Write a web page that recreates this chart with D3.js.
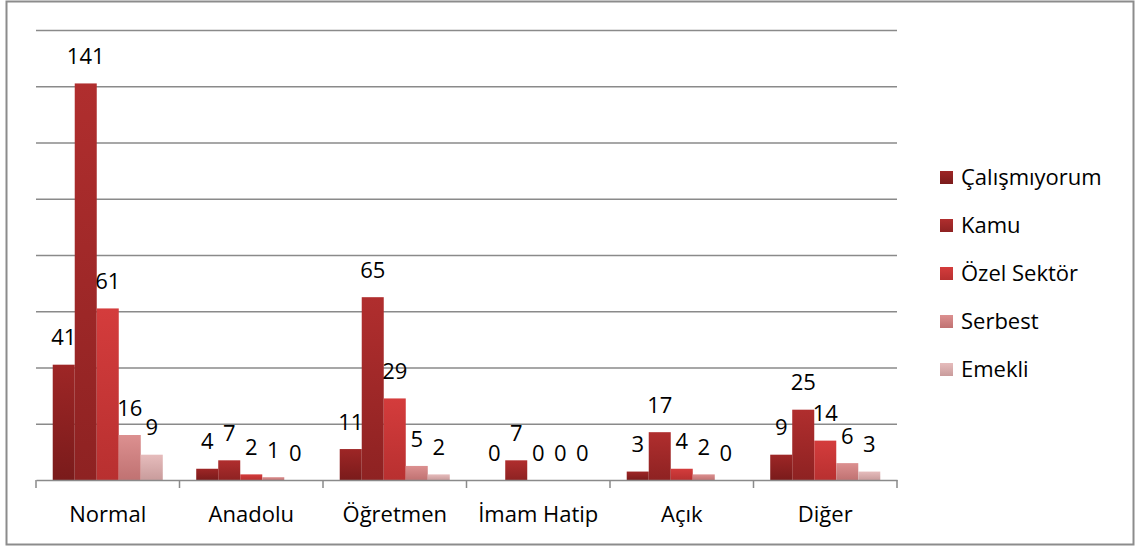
<!DOCTYPE html>
<html>
<head>
<meta charset="utf-8">
<script src="https://cdn.jsdelivr.net/npm/d3@7"></script>
<style>
	body { margin: 0; background: white; }
	text { font-family: "Open Sans", "Noto Sans", sans-serif; fill: black; }
</style>
</head>
<body>
<svg id="chart" width="1137" height="549"></svg>
<script>
var categories = ["Normal", "Anadolu", "Öğretmen", "İmam Hatip", "Açık", "Diğer"];
var seriesNames = ["Çalışmıyorum", "Kamu", "Özel Sektör", "Serbest", "Emekli"];
var calismiyorum = [41, 4, 11, 0, 3, 9];
var kamu = [141, 7, 65, 7, 17, 25];
var ozelSektor = [61, 2, 29, 0, 4, 14];
var serbest = [16, 1, 5, 0, 2, 6];
var emekli = [9, 0, 2, 0, 0, 3];
var yTicks = [0, 20, 40, 60, 80, 100, 120, 140, 160];

var allSeries = [calismiyorum, kamu, ozelSektor, serbest, emekli];
// top / bottom colour of each series gradient
var colTop = ["#9e2626", "#b02e2e", "#d43c3c", "#dc9090", "#e6bcbc"];
var colBot = ["#7a1b1b", "#8e2222", "#b83030", "#c07272", "#c99c9c"];
var fontSize = "22px";

var svg = d3.select("#chart");
var margin = { left: 36, right: 897, top: 30, bottom: 480 };

// frame
svg.append("rect")
	.attr("x", 6.5).attr("y", 1.5)
	.attr("width", 1127).attr("height", 543)
	.attr("fill", "none")
	.attr("stroke", "#8c8c8c")
	.attr("stroke-width", 2);

var defs = svg.append("defs");
seriesNames.forEach(function(s, i) {
	var g = defs.append("linearGradient")
		.attr("id", "grad" + i)
		.attr("x1", 0).attr("y1", 0).attr("x2", 0).attr("y2", 1);
	g.append("stop").attr("offset", "0%").attr("stop-color", colTop[i]);
	g.append("stop").attr("offset", "100%").attr("stop-color", colBot[i]);
});

var y = d3.scaleLinear().domain([0, 160]).range([margin.bottom, margin.top]);
var x0 = d3.scaleBand().domain(categories).range([margin.left, margin.right]);
var x1 = d3.scaleBand().domain(d3.range(seriesNames.length))
	.range([0, x0.bandwidth()])
	.paddingOuter(0.76);

// grid
svg.append("g").selectAll("line")
	.data(yTicks.filter(function(d) { return d > 0; }))
	.enter().append("line")
	.attr("x1", margin.left).attr("x2", margin.right)
	.attr("y1", function(d) { return y(d) + 0.5; })
	.attr("y2", function(d) { return y(d) + 0.5; })
	.attr("stroke", "#8a8a8a")
	.attr("stroke-width", 1.5);

// bars
var groups = svg.append("g").selectAll("g")
	.data(categories)
	.enter().append("g")
	.attr("transform", function(d) { return "translate(" + x0(d) + ",0)"; });

groups.each(function(cat, ci) {
	var g = d3.select(this);
	allSeries.forEach(function(vals, si) {
		var v = vals[ci];
		g.append("rect")
			.attr("x", x1(si))
			.attr("y", y(v))
			.attr("width", x1.bandwidth())
			.attr("height", y(0) - y(v))
			.attr("fill", "url(#grad" + si + ")");
		g.append("text")
			.attr("x", x1(si) + x1.bandwidth() / 2)
			.attr("y", y(v) - 27)
			.attr("dy", "0.35em")
			.attr("text-anchor", "middle")
			.style("font-size", fontSize)
			.text(v);
	});
});

// x axis
var axis = d3.axisBottom(x0).tickSize(0).tickSizeOuter(0);
var ax = svg.append("g")
	.attr("transform", "translate(0," + margin.bottom + ")")
	.call(axis);
ax.select(".domain").attr("stroke", "#8a8a8a").attr("stroke-width", 1.5);
ax.selectAll("text")
	.attr("dy", 0)
	.attr("y", 42)
	.style("font-size", fontSize)
	.style("font-family", "'Open Sans', 'Noto Sans', sans-serif")
	.attr("fill", "black");
// boundary ticks
ax.append("g").selectAll("line")
	.data(categories.concat(["end"]))
	.enter().append("line")
	.attr("x1", function(d, i) { return i < categories.length ? x0(d) : margin.right; })
	.attr("x2", function(d, i) { return i < categories.length ? x0(d) : margin.right; })
	.attr("y1", 0).attr("y2", 8)
	.attr("stroke", "#8a8a8a")
	.attr("stroke-width", 1.5);

// legend
var legend = svg.append("g").selectAll("g")
	.data(seriesNames)
	.enter().append("g")
	.attr("transform", function(d, i) { return "translate(940," + (177 + i * 48) + ")"; });
legend.append("rect")
	.attr("x", 0).attr("y", -6)
	.attr("width", 13).attr("height", 13)
	.attr("fill", function(d, i) { return "url(#grad" + i + ")"; });
legend.append("text")
	.attr("x", 21)
	.attr("dy", "0.35em")
	.style("font-size", fontSize)
	.text(function(d) { return d; });
</script>
</body>
</html>
